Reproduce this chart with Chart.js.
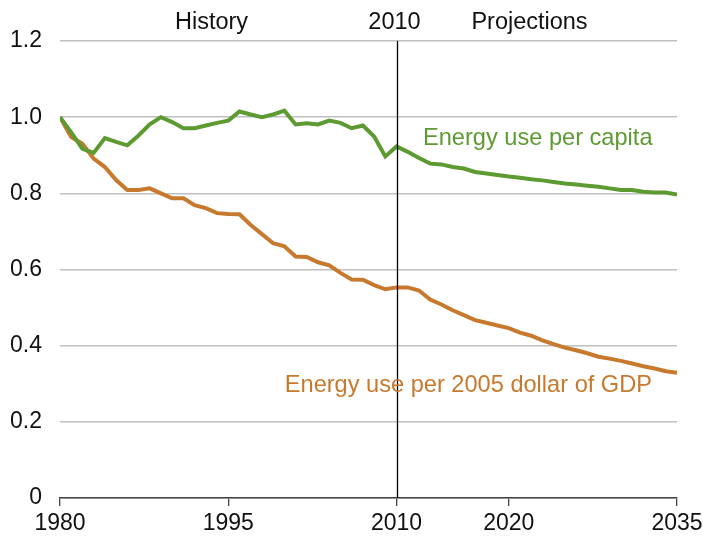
<!DOCTYPE html>
<html>
<head>
<meta charset="utf-8">
<script src="https://cdn.jsdelivr.net/npm/chart.js@4"></script>
<style>
  html, body { margin: 0; padding: 0; background: #fff; }
  #wrap { width: 703px; height: 537px; }
</style>
</head>
<body>
<div id="wrap"><canvas id="energyChart" width="703" height="537"></canvas></div>
<script>
// Energy use per capita and per 2005 dollar of GDP (index, 1980 = 1)
const years = [];
for (let y = 1980; y <= 2035; y++) years.push(y);

const perCapita = [
    1.0, 0.96, 0.917, 0.906, 0.945, 0.935, 0.926, 0.952, 0.981, 1.0,
    0.987, 0.971, 0.971, 0.978, 0.985, 0.991, 1.015, 1.007, 1.0, 1.007,
    1.017, 0.981, 0.984, 0.981, 0.991, 0.985, 0.971, 0.978, 0.949, 0.897,
    0.923, 0.909, 0.893, 0.878, 0.876, 0.869, 0.865, 0.856, 0.852, 0.848,
    0.844, 0.841, 0.837, 0.834, 0.83, 0.826, 0.823, 0.82, 0.817, 0.813,
    0.809, 0.809, 0.804, 0.802, 0.802, 0.797
];

const perGdp = [
    1.0, 0.948, 0.93, 0.891, 0.869, 0.835, 0.809, 0.809, 0.813, 0.8,
    0.787, 0.787, 0.769, 0.761, 0.748, 0.746, 0.745, 0.717, 0.693, 0.669,
    0.661, 0.634, 0.633, 0.619, 0.611, 0.591, 0.574, 0.573, 0.559, 0.548,
    0.553, 0.553, 0.545, 0.521, 0.508, 0.493, 0.48, 0.467, 0.46, 0.453,
    0.446, 0.434, 0.426, 0.414, 0.404, 0.395, 0.388, 0.38, 0.371, 0.366,
    0.36, 0.353, 0.346, 0.34, 0.333, 0.329
];

const xTicks = [1980, 1995, 2010, 2020, 2035];
const splitYear = 2010;

const GREEN = 'rgb(94, 154, 50)';
const BROWN = 'rgb(199, 121, 46)';
const FONT = '"Liberation Sans", Arial, sans-serif';

// vertical 2010 line plus the text annotations
const annotations = {
    id: 'annotations',
    afterDatasetsDraw(chart) {
        const { ctx, chartArea, scales: { x, y } } = chart;
        const xs = Math.round(x.getPixelForValue(splitYear)) + 0.5;
        ctx.save();
        ctx.strokeStyle = '#000';
        ctx.lineWidth = 1.3;
        ctx.beginPath();
        ctx.moveTo(xs, y.getPixelForValue(1.2));
        ctx.lineTo(xs, chartArea.bottom);
        ctx.stroke();

        ctx.font = '23.5px ' + FONT;
        ctx.fillStyle = '#111';
        ctx.textAlign = 'center';
        ctx.textBaseline = 'middle';
        const ty = chartArea.top - 18;
        ctx.fillText('History', xs - 186, ty);
        ctx.fillText('2010', xs - 3, ty);
        ctx.fillText('Projections', xs + 132, ty);

        ctx.font = '23.6px ' + FONT;
        ctx.textAlign = 'left';
        ctx.fillStyle = GREEN;
        ctx.fillText('Energy use per capita', 423, 138);
        ctx.textAlign = 'right';
        ctx.fillStyle = BROWN;
        ctx.fillText('Energy use per 2005 dollar of GDP', 652, 385);
        ctx.restore();
    }
};

new Chart(document.getElementById('energyChart').getContext('2d'), {
    type: 'line',
    data: {
        datasets: [{
            label: 'Energy use per capita',
            data: years.map((yr, i) => ({ x: yr, y: perCapita[i] })),
            borderColor: GREEN,
            borderWidth: 4,
            pointRadius: 0,
            tension: 0
        }, {
            label: 'Energy use per 2005 dollar of GDP',
            data: years.map((yr, i) => ({ x: yr, y: perGdp[i] })),
            borderColor: BROWN,
            borderWidth: 4,
            pointRadius: 0,
            tension: 0
        }]
    },
    options: {
        responsive: false,
        animation: false,
        layout: { padding: { top: 41, right: 26, left: 0, bottom: 0 } },
        plugins: {
            legend: { display: false },
            tooltip: { enabled: false }
        },
        scales: {
            x: {
                type: 'linear',
                min: 1980,
                max: 2035,
                afterBuildTicks: axis => { axis.ticks = xTicks.map(v => ({ value: v })); },
                afterFit: axis => {
                    axis.height = 39;
                    axis.paddingLeft = 0;
                    axis.paddingRight = 0;
                },
                ticks: {
                    color: '#111',
                    font: { family: FONT, size: 23 },
                    padding: 4,
                    maxRotation: 0,
                    autoSkip: false,
                    callback: v => String(v)
                },
                grid: { drawOnChartArea: false, color: '#444', lineWidth: 1.3, tickLength: 8 },
                border: { color: '#444', width: 1.5 }
            },
            y: {
                min: 0,
                max: 1.2,
                afterFit: axis => { axis.width = 60; },
                ticks: {
                    stepSize: 0.2,
                    color: '#111',
                    font: { family: FONT, size: 23 },
                    padding: 18,
                    callback: v => (v === 0 ? '0' : v.toFixed(1))
                },
                grid: { color: '#c0c0c0', lineWidth: 1.5, drawTicks: false },
                border: { display: false }
            }
        }
    },
    plugins: [annotations]
});
</script>
</body>
</html>
